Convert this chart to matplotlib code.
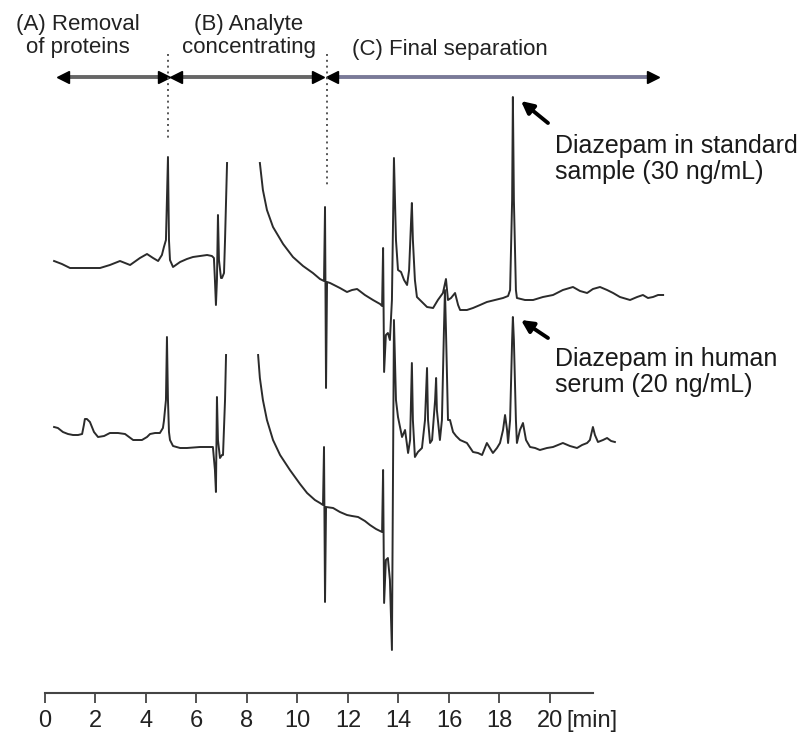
import numpy as np
import matplotlib.pyplot as plt
from matplotlib import font_manager

# chromatogram traces, time in min, detector response in a.u.
# (nan = pen off scale)
t_std = [0.36, 0.67, 0.99, 1.58, 2.18, 2.57, 2.97, 3.37, 3.76, 4.04, 4.28, 4.48,
         4.63, 4.71, 4.79, 4.87, 4.91, 4.95, 5.07, 5.35, 5.62, 5.86, 6.14, 6.42,
         6.61, 6.69, 6.73, 6.77, 6.81, 6.85, 6.89, 6.97, 7.01, 7.09, 7.13, 7.21,
         np.nan,
         8.51, 8.63, 8.79, 9.03, 9.43, 9.82, 10.22, 10.61, 10.89, 11.05, 11.09,
         11.13, 11.17, 11.29, 11.68, 11.96, 12.16, 12.36, 12.67, 12.99, 13.27,
         13.35, 13.39, 13.43, 13.50, 13.58, 13.66, 13.74, 13.82, 13.90, 13.98,
         14.10, 14.22, 14.34, 14.42, 14.50, 14.53, 14.57, 14.65, 14.73, 14.93,
         15.13, 15.37, 15.56, 15.76, 15.88, 15.96, 16.08, 16.24, 16.36, 16.44,
         16.71, 16.95, 17.23, 17.50, 17.82, 18.14, 18.34, 18.42, 18.50, 18.53,
         18.57, 18.65, 18.69, 19.01, 19.33, 19.72, 20.12, 20.51, 20.91, 21.19,
         21.47, 21.70, 21.98, 22.26, 22.50, 22.77, 23.17, 23.45, 23.68, 23.88,
         24.08, 24.28, 24.48]
r_std = [29, 26, 22, 22, 22, 25, 29, 25, 32, 36, 32, 29,
         35, 43, 50, 133, 50, 30, 23, 28, 31, 33, 34, 35,
         34, 32, 10, -15, 10, 75, 30, 12, 12, 17, 50, 127,
         np.nan,
         127, 100, 80, 63, 46, 33, 24, 17, 11, 9, 83,
         -98, 8, 7, 2, -2, 0, 1, -5, -10, -14,
         -16, 42, -82, -45, -43, -50, -10, 132, 50, 20,
         18, 10, 5, 20, 70, 87, 50, 10, -7, -12,
         -17, -18, -10, -3, 11, -10, -8, -3, -15, -20,
         -20, -18, -15, -12, -10, -8, -6, 0, 90, 193,
         90, 0, -8, -10, -10, -7, -5, 0, 3, -1,
         -3, 1, 3, 0, -3, -7, -10, -7, -5, -8,
         -7, -5, -5]

t_serum = [0.36, 0.51, 0.71, 0.91, 1.11, 1.31, 1.47, 1.54, 1.58, 1.66, 1.78, 1.94,
           2.10, 2.34, 2.57, 2.89, 3.17, 3.33, 3.49, 3.84, 4.04, 4.16, 4.36, 4.55,
           4.67, 4.71, 4.79, 4.83, 4.87, 4.91, 4.95, 5.07, 5.35, 5.62, 6.14, 6.65,
           6.73, 6.77, 6.81, 6.85, 6.93, 7.01, 7.05, 7.13, 7.17,
           np.nan,
           8.44, 8.51, 8.63, 8.79, 9.03, 9.31, 9.70, 10.10, 10.38, 10.69, 10.89,
           11.01, 11.05, 11.09, 11.13, 11.41, 11.68, 11.96, 12.16, 12.40, 12.67,
           12.87, 13.11, 13.35, 13.39, 13.43, 13.50, 13.58, 13.66, 13.74, 13.82,
           13.90, 13.98, 14.06, 14.14, 14.26, 14.34, 14.38, 14.46, 14.53, 14.57,
           14.65, 14.77, 14.93, 15.05, 15.13, 15.17, 15.25, 15.33, 15.45, 15.49,
           15.52, 15.64, 15.72, 15.80, 15.84, 15.88, 15.96, 16.04, 16.16, 16.28,
           16.44, 16.71, 16.95, 17.15, 17.31, 17.50, 17.62, 17.74, 17.90, 18.02,
           18.14, 18.22, 18.30, 18.34, 18.42, 18.50, 18.53, 18.57, 18.65, 18.69,
           18.81, 18.93, 19.05, 19.21, 19.41, 19.60, 19.88, 20.12, 20.32, 20.51,
           20.79, 21.07, 21.27, 21.47, 21.58, 21.70, 21.78, 21.90, 22.10, 22.26,
           22.42, 22.57]
r_serum = [18, 17, 13, 11, 10, 10, 11, 20, 26, 26, 23, 13,
           8, 9, 12, 12, 11, 8, 5, 5, 8, 11, 12, 12,
           17, 24, 45, 108, 45, 13, 5, -1, -3, -3, -2, -2,
           -25, -47, 48, 5, -13, -10, -10, 45, 90,
           np.nan,
           90, 67, 45, 25, 5, -10, -25, -39, -48, -55, -58,
           -60, -2, -157, -62, -63, -67, -70, -71, -72, -76,
           -80, -84, -87, -25, -158, -115, -113, -135, -205, 125,
           45, 28, 18, 8, 15, 0, -8, 5, 82, 25,
           -12, -7, -3, 25, 77, 25, 2, 5, 45, 67,
           35, 5, 25, 115, 155, 115, 25, 25, 13, 9,
           5, 2, -7, -8, -10, 2, -3, -8, -3, 2,
           15, 30, 15, 2, 25, 105, 128, 105, 25, 2,
           15, 22, 5, -2, -3, -5, -3, -2, 0, 2,
           -1, -3, 0, 2, 5, 18, 10, 3, 5, 7,
           4, 3]

serum_offset = -155

# method steps
step_labels = ["(A) Removal\nof proteins", "(B) Analyte\nconcentrating", "(C) Final separation"]
step_start = [0.71, 5.19, 11.37]
step_end = [4.71, 10.81, 24.08]
switch_times = [4.87, 11.17]

time_ticks = np.arange(0, 21, 2)

names = {f.name for f in font_manager.fontManager.ttflist}
narrow = 'Liberation Sans Narrow' if 'Liberation Sans Narrow' in names else 'Liberation Sans'
plt.rcParams['font.family'] = ['Liberation Sans', 'DejaVu Sans']

fig = plt.figure(figsize=(8.08, 7.36), dpi=100)
ax = fig.add_axes([0, 0, 1, 1])
ax.set_xlim(-1.782, 30.218)
ax.set_ylim(-446, 290)

ink = '#2b2b2b'
ax.plot(t_std, r_std, color=ink, lw=1.4)
ax.plot(t_serum, np.array(r_serum) + serum_offset, color=ink, lw=1.4)

# time axis
for s in ['top', 'left', 'right']:
    ax.spines[s].set_visible(False)
ax.spines['bottom'].set_position(('data', -403))
ax.spines['bottom'].set_bounds(0, 21.7)
ax.spines['bottom'].set_linewidth(1.5)
ax.spines['bottom'].set_color('#444444')
ax.set_yticks([])
ax.set_xticks(time_ticks)
ax.set_xticklabels([str(v) for v in time_ticks], family=narrow, fontsize=17)
ax.tick_params(axis='x', direction='out', length=7, width=1.3, color='#444444',
               pad=5, labelcolor='#222222')
ax.text(20.66, -420, '[min]', family=narrow, fontsize=17, color='#222222',
        ha='left', va='top')

# step labels and arrows
ax.text(1.31, 254, step_labels[0], ha='center', va='center', fontsize=16,
        linespacing=1.15, color='#222222')
ax.text(8.08, 254, step_labels[1], ha='center', va='center', fontsize=16,
        linespacing=1.15, color='#222222')
ax.text(12.16, 240, step_labels[2], ha='left', va='center', fontsize=16,
        color='#222222')

line_cols = ['#666666', '#666666', '#7a7a98']
for a, b, c in zip(step_start, step_end, line_cols):
    ax.plot([a, b], [213, 213], color=c, lw=2.8, solid_capstyle='butt')
    ax.plot([a], [213], marker='<', color='black', ms=8, mec='black')
    ax.plot([b], [213], marker='>', color='black', ms=8, mec='black')

ax.plot([switch_times[0]] * 2, [236, 150], color='#555555', lw=1.4, ls=(0, (1, 2)))
ax.plot([switch_times[1]] * 2, [236, 105], color='#555555', lw=1.4, ls=(0, (1, 2)))

# diazepam annotations
ax.annotate('', xy=(18.85, 189), xytext=(19.92, 167),
            arrowprops=dict(arrowstyle='-|>', lw=2.8, color='black', mutation_scale=18,
                            shrinkA=0, shrinkB=0))
ax.annotate('', xy=(18.85, -30), xytext=(19.92, -48),
            arrowprops=dict(arrowstyle='-|>', lw=2.8, color='black', mutation_scale=18,
                            shrinkA=0, shrinkB=0))
ax.text(20.2, 131, 'Diazepam in standard\nsample (30 ng/mL)', ha='left', va='center',
        fontsize=18, linespacing=1.1, color='#1a1a1a')
ax.text(20.2, -82, 'Diazepam in human\nserum (20 ng/mL)', ha='left', va='center',
        fontsize=18, linespacing=1.1, color='#1a1a1a')

fig.savefig('out.png', dpi=100)
